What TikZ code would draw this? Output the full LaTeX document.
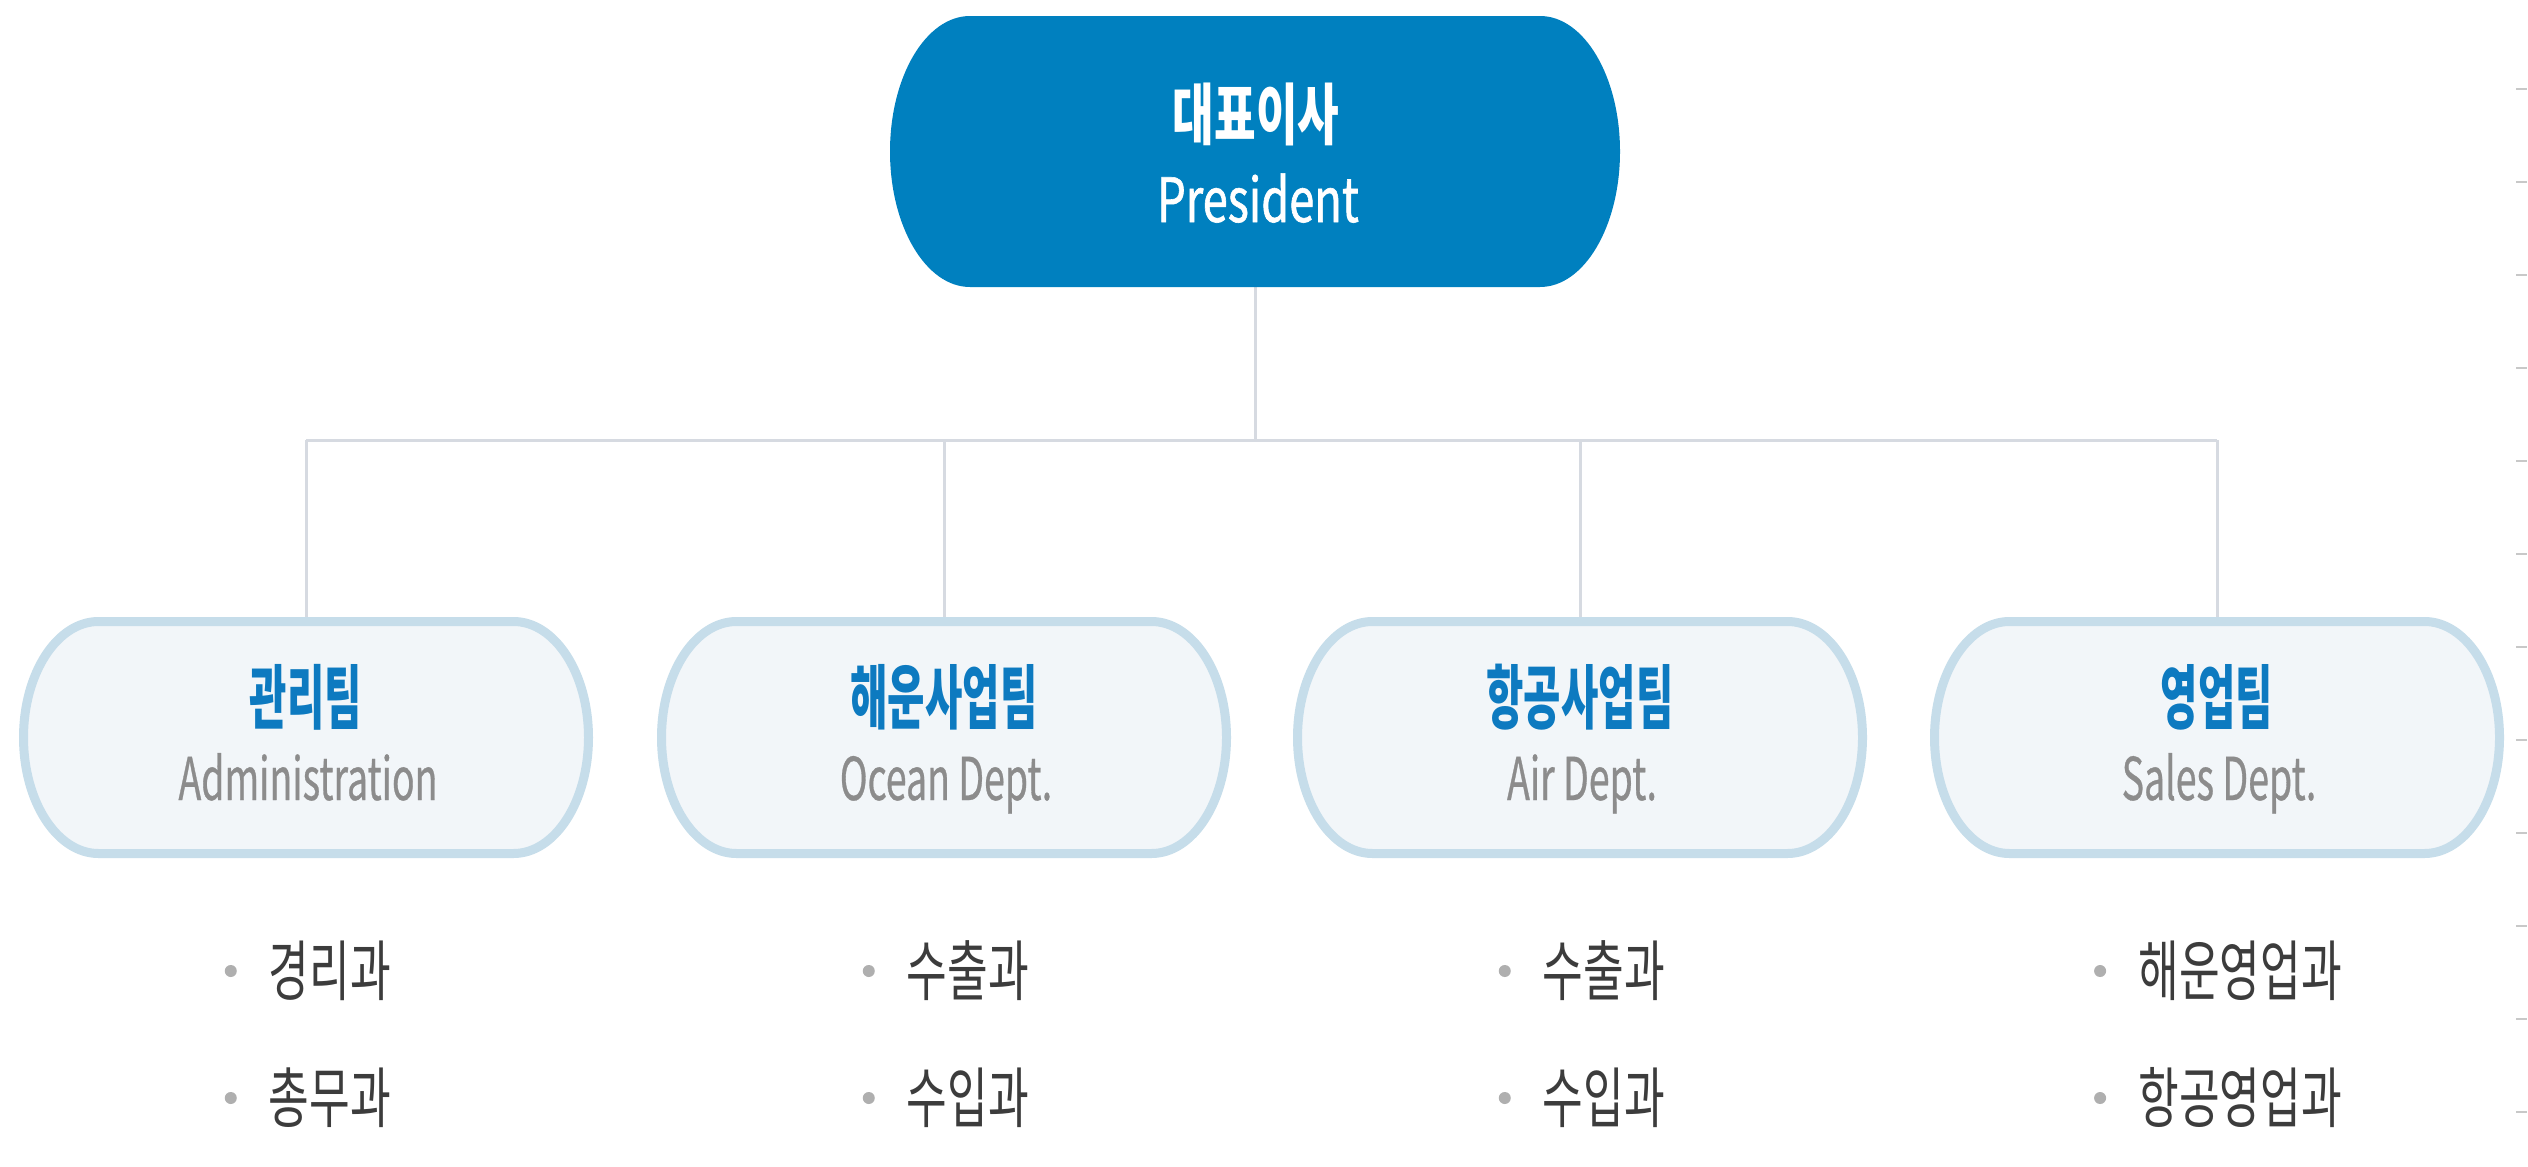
\documentclass[tikz,border=0pt]{standalone}
\usepackage{fontspec}
\setmainfont{Noto Sans CJK KR}[FakeStretch=0.67]
\newfontfamily\presKfont{Noto Sans CJK KR}[FakeStretch=0.675]
\newfontfamily\presLfont{Noto Sans CJK KR}[FakeStretch=0.74, FakeBold=1]
\newfontfamily\deptKfont{Noto Sans CJK KR}[FakeStretch=0.58]
\newfontfamily\deptLfont{Noto Sans CJK KR}[FakeStretch=0.635, FakeBold=0.5]
\newfontfamily\itemKfont{Noto Sans CJK KR}[FakeStretch=0.67]
\usetikzlibrary{calc}
\definecolor{presblue}{HTML}{0080BF}
\definecolor{titleblue}{HTML}{0D7AC0}
\definecolor{subgrey}{HTML}{8C8C8C}
\definecolor{itemgrey}{HTML}{3C3C3C}
\definecolor{dotgrey}{HTML}{AFAFAF}
\definecolor{linegrey}{HTML}{D6DAE1}
\definecolor{boxborder}{HTML}{C6DDEA}
\definecolor{boxfill}{HTML}{F2F6F9}
\definecolor{tickgrey}{HTML}{C8C8C8}
\newcommand\drawpill[4]{\path[#4] ([xshift=#2]#1.north west) -- ([xshift=-#2]#1.north east) arc[start angle=90,end angle=-90,x radius=#2,y radius=#3] -- ([xshift=#2]#1.south west) arc[start angle=270,end angle=90,x radius=#2,y radius=#3] -- cycle;}
\tikzset{
  frame/.style={inner sep=0pt, outer sep=0pt, minimum width=#1},
  presframe/.style={frame=730pt, minimum height=271pt},
  deptframe/.style={frame=565pt, minimum height=232pt},
  presfill/.style={fill=presblue},
  deptfill/.style={fill=boxfill, draw=boxborder, line width=9pt},
  prestitle/.style={text=white, font=\presKfont\fontsize{67}{67}\selectfont\bfseries, inner sep=0pt},
  pressub/.style={text=white, font=\presLfont\fontsize{61}{61}\selectfont, inner sep=0pt, anchor=base},
  depttitle/.style={text=titleblue, font=\deptKfont\fontsize{70}{70}\selectfont\bfseries, inner sep=0pt},
  deptsub/.style={text=subgrey, font=\deptLfont\fontsize{59}{59}\selectfont, inner sep=0pt, anchor=base},
  itemtext/.style={text=itemgrey, font=\itemKfont\fontsize{66}{66}\selectfont, inner sep=0pt},
  dotmark/.style={circle, fill=dotgrey, inner sep=0pt, minimum size=12pt},
  conn/.style={draw=linegrey, line width=3pt},
  tick/.style={draw=tickgrey, line width=2pt}
}
\begin{document}
\begin{tikzpicture}[x=1pt,y=-1pt]
\useasboundingbox[fill=white] (0,0) rectangle (2528,1167);
% frames
\node[presframe] (pres) at (1255,151.5) {};
\node[deptframe] (d1) at (306,737.5) {};
\node[deptframe] (d2) at (944,737.5) {};
\node[deptframe] (d3) at (1580,737.5) {};
\node[deptframe] (d4) at (2217,737.5) {};
% connectors
\coordinate (busL) at (306,440);
\coordinate (busR) at (2217,440);
\draw[conn] (pres.south) -- (pres.south |- busL);
\draw[conn] (busL) -- (busR);
\foreach \d in {d1,d2,d3,d4} { \draw[conn] (\d.north |- busL) -- (\d.north); }
% pills
\drawpill{pres}{80pt}{135.5pt}{presfill}
\foreach \d in {d1,d2,d3,d4} { \drawpill{\d}{75pt}{116pt}{deptfill} }
% president text
\node[prestitle] (pt) at (1256,114) {대표이사};
\node[pressub] (ps) at (1258,222) {President};
% department texts
\node[depttitle] (t1) at (306,697) {관리팀};
\node[deptsub] (s1) at (308,800) {Administration};
\node[depttitle] (t2) at (944,697) {해운사업팀};
\node[deptsub] (s2) at (946,800) {Ocean Dept.};
\node[depttitle] (t3) at (1580,697) {항공사업팀};
\node[deptsub] (s3) at (1582,800) {Air Dept.};
\node[depttitle] (t4) at (2217,697) {영업팀};
\node[deptsub] (s4) at (2219,800) {Sales Dept.};
% items
\foreach \n/\x/\a/\b in {1/330/경리과/총무과, 2/968/수출과/수입과, 3/1604/수출과/수입과, 4/2240/해운영업과/항공영업과} {
  \node[itemtext] (ia\n) at (\x,971) {\a};
  \node[itemtext] (ib\n) at (\x,1098) {\b};
  \node[dotmark] (da\n) at ($(ia\n.west)+(-38,0)$) {};
  \node[dotmark] (db\n) at ($(ib\n.west)+(-38,0)$) {};
}
% right-edge ticks
\foreach \k in {0,...,11} { \draw[tick] (2516,89+93*\k) -- (2527,89+93*\k); }
\end{tikzpicture}
\end{document}
